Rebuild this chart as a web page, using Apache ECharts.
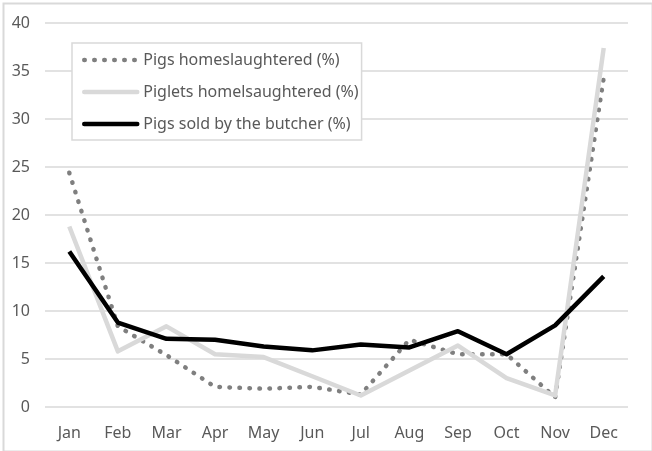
<!DOCTYPE html>
<html>
<head>
<meta charset="utf-8">
<script src="https://cdn.jsdelivr.net/npm/echarts@6/dist/echarts.min.js"></script>
<style>
html,body{margin:0;padding:0;background:#fff;}
#c{width:652px;height:451px;}
</style>
</head>
<body>
<div id="c"></div>
<script>
const months = ['Jan','Feb','Mar','Apr','May','Jun','Jul','Aug','Sep','Oct','Nov','Dec'];
const pigsHome = [24.4, 8.4, 5.4, 2.1, 1.9, 2.1, 1.3, 7.0, 5.5, 5.5, 1.0, 34.3];
const pigletsHome = [18.8, 5.8, 8.4, 5.5, 5.2, 3.2, 1.2, 3.8, 6.4, 3.0, 1.2, 37.4];
const pigsButcher = [16.2, 8.8, 7.1, 7.0, 6.3, 5.9, 6.5, 6.2, 7.9, 5.5, 8.5, 13.6];
const yTicks = {min: 0, max: 40, interval: 5};
const names = ['Pigs homeslaughtered (%)', 'Piglets homelsaughtered (%)', 'Pigs sold by the butcher (%)'];

const font = 'Noto Sans';
const chart = echarts.init(document.getElementById('c'), null, {renderer: 'canvas'});
chart.setOption({
  animation: false,
  backgroundColor: '#fff',
  graphic: [{
    type: 'rect', left: 1, top: 1, silent: true,
    shape: {width: 649, height: 448},
    style: {fill: 'none', stroke: '#d9d9d9', lineWidth: 2}
  }],
  grid: {left: 45, right: 24, top: 23, bottom: 44, containLabel: false},
  legend: {
    orient: 'vertical', left: 72, top: 43,
    padding: [9, 3, 8, 10],
    borderColor: '#d9d9d9', borderWidth: 1.5, backgroundColor: '#fff',
    itemWidth: 53, itemHeight: 14, itemGap: 16,
    itemStyle: {opacity: 0, borderWidth: 0},
    lineStyle: {width: 4.5, cap: 'round'},
    textStyle: {fontFamily: font, fontSize: 16, color: '#595959', padding: [0, 0, 0, 1]},
    data: [
      {name: names[0], lineStyle: {width: 4.5, type: [0.5, 9.5], cap: 'round', color: '#7f7f7f'}},
      {name: names[1], lineStyle: {width: 4.5, cap: 'round', color: '#d9d9d9'}},
      {name: names[2], lineStyle: {width: 4.5, cap: 'round', color: '#000'}}
    ]
  },
  xAxis: {
    type: 'category', data: months, boundaryGap: true,
    axisLine: {show: false}, axisTick: {show: false},
    axisLabel: {fontFamily: font, fontSize: 16, color: '#595959', margin: 18}
  },
  yAxis: {
    type: 'value', min: yTicks.min, max: yTicks.max, interval: yTicks.interval,
    axisLine: {show: false}, axisTick: {show: false},
    axisLabel: {fontFamily: font, fontSize: 16, color: '#595959', margin: 15, align: 'right'},
    splitLine: {lineStyle: {color: '#d9d9d9', width: 1.5}}
  },
  series: [
    {
      name: names[0], type: 'line', data: pigsHome, symbol: 'none', z: 2,
      lineStyle: {color: '#7f7f7f', width: 4.5, type: [0.5, 9.5], cap: 'round', join: 'round'},
      itemStyle: {color: '#7f7f7f'}
    },
    {
      name: names[1], type: 'line', data: pigletsHome, symbol: 'none', z: 3,
      lineStyle: {color: '#d9d9d9', width: 4.5, join: 'round'},
      itemStyle: {color: '#d9d9d9'}
    },
    {
      name: names[2], type: 'line', data: pigsButcher, symbol: 'none', z: 4,
      lineStyle: {color: '#000', width: 4.5, join: 'round'},
      itemStyle: {color: '#000'}
    }
  ]
});
</script>
</body>
</html>
